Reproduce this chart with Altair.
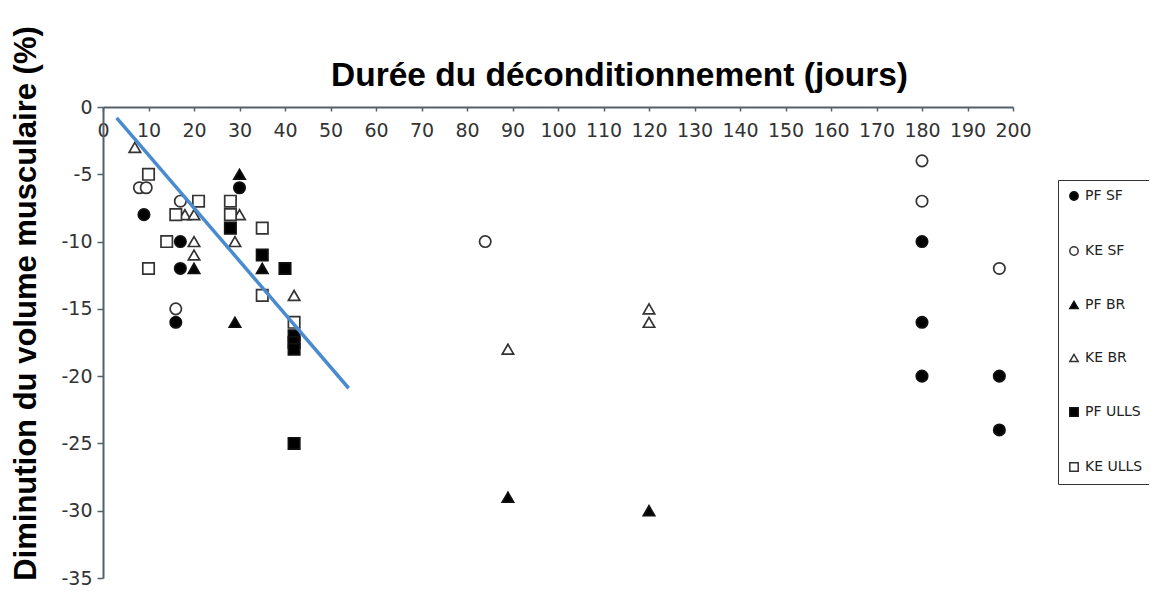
import altair as alt
import pandas as pd

# ---- data ----
series_names = ["PF SF", "KE SF", "PF BR", "KE BR", "PF ULLS", "KE ULLS"]
series_shapes = ["circle", "circle", "triangle-up", "triangle-up", "square", "square"]
series_fills = ["#000000", "#ffffff", "#000000", "#ffffff", "#000000", "#ffffff"]
series_strokes = ["#111111", "#333333", "#111111", "#333333", "#111111", "#333333"]

pf_sf_x = [9, 17, 17, 16, 30, 180, 180, 180, 197, 197]
pf_sf_y = [-8, -10, -12, -16, -6, -10, -16, -20, -20, -24]

ke_sf_x = [8, 9.5, 17, 16, 84, 180, 180, 197]
ke_sf_y = [-6, -6, -7, -15, -10, -4, -7, -12]

pf_br_x = [20, 30, 35, 29, 89, 120]
pf_br_y = [-12, -5, -12, -16, -29, -30]

ke_br_x = [7, 18, 20, 20, 20, 30, 29, 42, 89, 120, 120]
ke_br_y = [-3, -8, -8, -10, -11, -8, -10, -14, -18, -15, -16]

pf_ulls_x = [28, 35, 40, 42, 42, 42, 42]
pf_ulls_y = [-9, -11, -12, -17, -17.5, -18, -25]

ke_ulls_x = [10, 10, 14, 16, 21, 28, 28, 35, 35, 42]
ke_ulls_y = [-5, -12, -10, -8, -7, -7, -8, -9, -14, -16]

trend_x = [3, 54]
trend_y = [-0.8, -20.9]

x_ticks = list(range(0, 201, 10))
y_ticks = [0, -5, -10, -15, -20, -25, -30, -35]

# ---- table ----
rows = []
for name, xs, ys in zip(
    series_names,
    [pf_sf_x, ke_sf_x, pf_br_x, ke_br_x, pf_ulls_x, ke_ulls_x],
    [pf_sf_y, ke_sf_y, pf_br_y, ke_br_y, pf_ulls_y, ke_ulls_y],
):
    for xv, yv in zip(xs, ys):
        rows.append({"duree": xv, "volume": yv, "serie": name})
df = pd.DataFrame(rows)
trend = pd.DataFrame({"duree": trend_x, "volume": trend_y})

W, H = 910, 471
axis_col = "#55616a"

x_enc = alt.X(
    "duree:Q",
    scale=alt.Scale(domain=[0, 200], nice=False, zero=False),
    axis=alt.Axis(
        orient="bottom",
        offset=-H,
        values=x_ticks,
        title="Durée du déconditionnement (jours)",
        titleX=516,
        titleY=-32,
        titleAlign="center",
        titleBaseline="middle",
        titleFont="Liberation Sans",
        titleFontSize=33.5,
        titleFontWeight="bold",
        titleColor="#000000",
        labelFont="DejaVu Sans",
        labelFontSize=19,
        labelColor="#333333",
        labelPadding=10,
        labelFlush=False,
        labelOverlap=False,
        tickSize=4,
        tickColor=axis_col,
        tickWidth=1.5,
        domainColor=axis_col,
        domainWidth=2,
        grid=False,
    ),
)

y_enc = alt.Y(
    "volume:Q",
    scale=alt.Scale(domain=[-35, 0], nice=False, zero=False),
    axis=alt.Axis(
        values=y_ticks,
        labelExpr="'' + datum.value",
        title="Diminution du volume musculaire (%)",
        titleAngle=270,
        titleX=-92,
        titleY=196,
        titleAlign="center",
        titleBaseline="top",
        titleFont="Liberation Sans",
        titleFontSize=31,
        titleFontWeight="bold",
        titleColor="#000000",
        labelFont="DejaVu Sans",
        labelFontSize=19,
        labelColor="#333333",
        labelPadding=5,
        tickSize=6,
        tickColor=axis_col,
        tickWidth=1.5,
        domainColor=axis_col,
        domainWidth=2,
        grid=False,
    ),
)

legend = alt.Legend(
    orient="none",
    legendX=955,
    legendY=73,
    padding=9,
    rowPadding=39,
    labelFont="DejaVu Sans",
    labelFontSize=14,
    labelColor="#222222",
    labelOffset=4,
    symbolSize=70,
    symbolStrokeWidth=1.5,
    strokeColor="#333333",
    fillColor="#ffffff",
)

points = alt.Chart(df).mark_point(
    filled=True, size=130, strokeWidth=1.7, opacity=1
).encode(
    x=x_enc,
    y=y_enc,
    shape=alt.Shape("serie:N", scale=alt.Scale(domain=series_names, range=series_shapes), title=None, legend=legend),
    fill=alt.Fill("serie:N", scale=alt.Scale(domain=series_names, range=series_fills), title=None, legend=legend),
    stroke=alt.Stroke("serie:N", scale=alt.Scale(domain=series_names, range=series_strokes), title=None, legend=legend),
)

line = alt.Chart(trend).mark_line(color="#4a8bcf", strokeWidth=3.5).encode(
    x="duree:Q", y="volume:Q"
)

chart = (
    alt.layer(points, line)
    .properties(
        width=W,
        height=H,
        autosize=alt.AutoSizeParams(type="none"),
        padding={"left": 95, "top": 99, "right": 136, "bottom": 10},
        background="#ffffff",
    )
    .configure_view(stroke=None)
)

chart.save("out.html", embed_options={"renderer": "svg", "actions": False})
